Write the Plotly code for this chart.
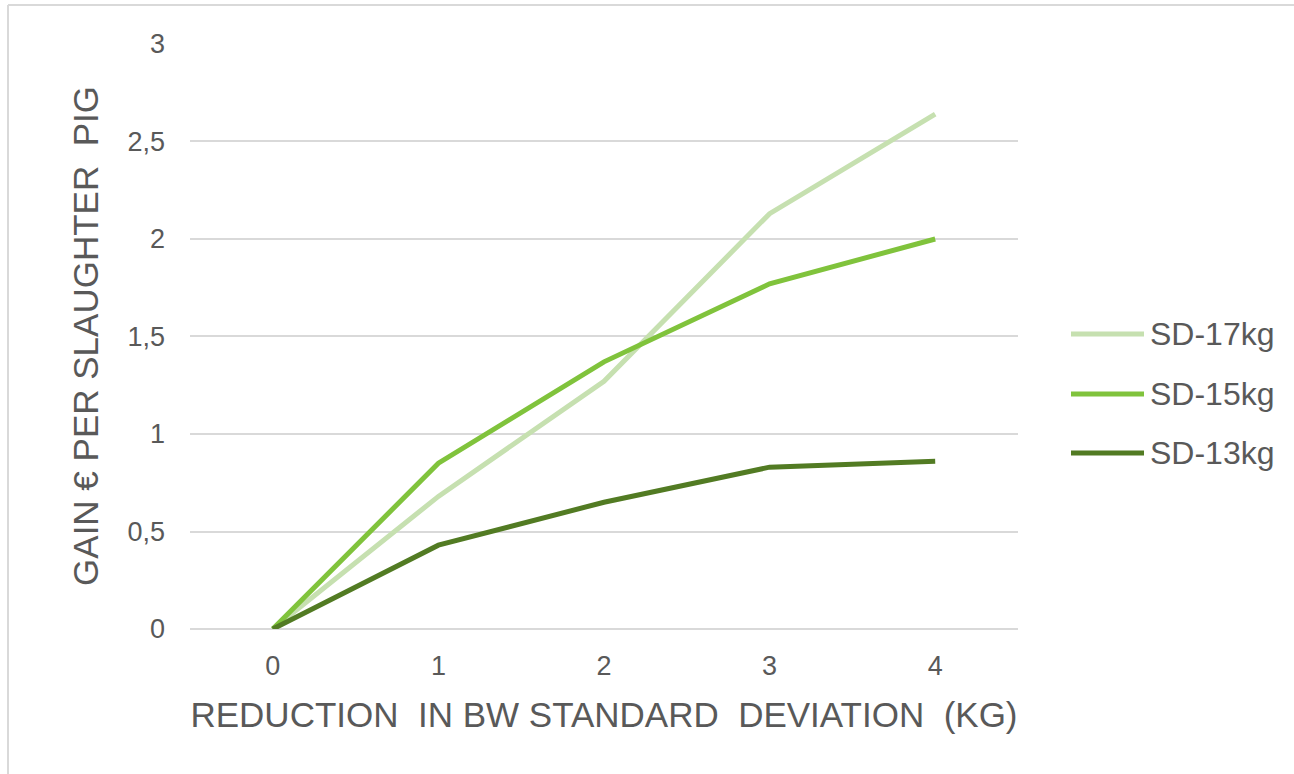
import plotly.graph_objects as go

x_labels = ["0", "1", "2", "3", "4"]
series_names = ["SD-17kg", "SD-15kg", "SD-13kg"]
sd17 = [0, 0.68, 1.27, 2.13, 2.64]
sd15 = [0, 0.85, 1.37, 1.77, 2.00]
sd13 = [0, 0.43, 0.65, 0.83, 0.86]
y_ticks = [0, 0.5, 1, 1.5, 2, 2.5, 3]
colors = ["#c6e0b0", "#80c33c", "#527b23"]

W, H = 1294, 774
L, R, T, B = 190, 276, 43, 145
pw, ph = W - L - R, H - T - B

def px(xp):
    return (xp - L) / pw

def py(yp):
    return (H - B - yp) / ph

FONT = "Liberation Sans, Arial, sans-serif"
TXT = "#595959"

fig = go.Figure()
for name, vals, c in zip(series_names, [sd17, sd15, sd13], colors):
    fig.add_trace(go.Scatter(x=x_labels, y=vals, mode="lines", name=name,
                             line=dict(color=c, width=5), showlegend=False))

# custom legend
leg_y = [334, 394, 453]
for name, c, yy in zip(series_names, colors, leg_y):
    fig.add_shape(type="line", xref="paper", yref="paper",
                  x0=px(1071), x1=px(1144), y0=py(yy), y1=py(yy),
                  line=dict(color=c, width=5))
    fig.add_annotation(xref="paper", yref="paper", x=px(1148), y=py(yy),
                       text=name, showarrow=False, xanchor="left", yanchor="middle",
                       font=dict(family=FONT, size=32, color=TXT))

# outer frame (top/left visible)
fig.add_shape(type="line", xref="paper", yref="paper", x0=px(8), x1=px(1300),
              y0=py(5), y1=py(5), line=dict(color="#d9d9d9", width=2))
fig.add_shape(type="line", xref="paper", yref="paper", x0=px(8), x1=px(8),
              y0=py(5), y1=py(780), line=dict(color="#d9d9d9", width=2))

nb = "\u00a0"
fig.update_layout(
    width=W, height=H,
    margin=dict(l=L, r=R, t=T, b=B, autoexpand=False),
    paper_bgcolor="white", plot_bgcolor="white",
    separators=",.",
    font=dict(family=FONT, color=TXT),
    xaxis=dict(type="category", range=[-0.5, 4.5], showgrid=False, zeroline=False,
               showline=False, ticks="", tickfont=dict(size=27, color=TXT),
               ticklabelstandoff=18,
               title=dict(text=f"REDUCTION{nb}{nb}IN BW STANDARD{nb}{nb}DEVIATION{nb}{nb}(KG)",
                          font=dict(size=35, color=TXT), standoff=22)),
    yaxis=dict(range=[0, 3.005], tickvals=y_ticks, showgrid=True, gridcolor="#d9d9d9",
               gridwidth=1.5, zeroline=True, zerolinecolor="#d9d9d9", zerolinewidth=1.5,
               showline=False, ticks="", tickfont=dict(size=27, color=TXT),
               ticklabelstandoff=24,
               title=dict(text=f"GAIN € PER SLAUGHTER{nb}{nb}PIG",
                          font=dict(size=35, color=TXT), standoff=18)),
)

fig.write_html("out.html", config={"displayModeBar": False},
               post_script="document.body.style.margin='0';")
